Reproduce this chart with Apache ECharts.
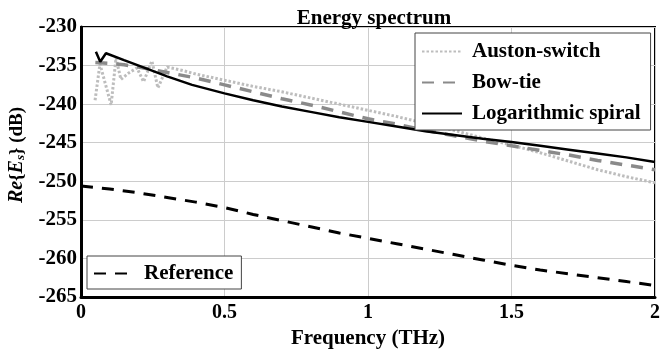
<!DOCTYPE html>
<html>
<head>
<meta charset="utf-8">
<script src="https://cdn.jsdelivr.net/npm/echarts@6/dist/echarts.min.js"></script>
<style>
  html, body { margin: 0; padding: 0; background: #fff; }
  #chart { width: 660px; height: 350px; }
</style>
</head>
<body>
<div id="chart"></div>
<script>
// values (frequency in THz, level in dB)
const austonFreq = [0.049, 0.066, 0.105, 0.122, 0.139, 0.165, 0.195, 0.218, 0.247, 0.268, 0.3, 0.35, 0.4, 0.5, 0.6, 0.7, 0.8, 0.9, 1.0, 1.1, 1.2, 1.3, 1.4, 1.5, 1.6, 1.7, 1.8, 1.9, 2.0]
const austonDb = [-239.5, -234.8, -240.1, -234.0, -236.8, -236.0, -235.3, -237.1, -234.4, -237.9, -235.2, -235.6, -236.1, -236.9, -237.7, -238.4, -239.2, -240.0, -240.8, -241.6, -242.5, -243.4, -244.4, -245.3, -246.3, -247.4, -248.5, -249.4, -250.2]

const bowtieFreq = [0.05, 0.1, 0.15, 0.2, 0.3, 0.4, 0.5, 0.6, 0.7, 0.8, 0.9, 1.0, 1.1, 1.2, 1.3, 1.4, 1.5, 1.6, 1.7, 1.8, 1.9, 2.0]
const bowtieDb = [-234.6, -234.7, -234.9, -235.2, -235.9, -236.6, -237.5, -238.4, -239.3, -240.1, -241.0, -241.9, -242.6, -243.4, -244.1, -244.8, -245.4, -246.0, -246.6, -247.3, -247.9, -248.5]

const spiralFreq = [0.052, 0.067, 0.087, 0.15, 0.236, 0.3, 0.387, 0.5, 0.6, 0.7, 0.8, 0.9, 1.0, 1.1, 1.2, 1.3, 1.4, 1.5, 1.6, 1.7, 1.8, 1.9, 2.0]
const spiralDb = [-233.2, -234.5, -233.4, -234.3, -235.5, -236.4, -237.5, -238.6, -239.5, -240.3, -241.0, -241.7, -242.3, -242.9, -243.5, -244.0, -244.5, -244.9, -245.4, -245.9, -246.4, -246.9, -247.5]

const refFreq = [0, 0.1, 0.2, 0.3, 0.4, 0.5, 0.6, 0.7, 0.8, 0.9, 1.0, 1.1, 1.2, 1.3, 1.4, 1.5, 1.6, 1.7, 1.8, 1.9, 2.0]
const refDb = [-250.6, -251.0, -251.5, -252.1, -252.7, -253.4, -254.3, -255.1, -255.9, -256.7, -257.4, -258.1, -258.8, -259.5, -260.2, -260.9, -261.5, -262.0, -262.5, -263.0, -263.5]

const font = 'Liberation Serif'
const pairs = (xs, ys) => xs.map((x, i) => [x, ys[i]])

const chart = echarts.init(document.getElementById('chart'))

const legendBase = {
  orient: 'vertical',
  backgroundColor: '#fff',
  borderColor: '#444',
  borderWidth: 1,
  borderRadius: 0,
  itemWidth: 40,
  itemHeight: 14,
  itemGap: 10,
  // line series legends always get a marker; hide it so only the stroke shows
  itemStyle: { opacity: 0, color: 'rgba(0,0,0,0)', borderWidth: 0 },
  textStyle: { fontFamily: font, fontSize: 21, fontWeight: 'bold', color: '#000', padding: [0, 0, 0, 5] },
}

chart.setOption({
  animation: false,
  backgroundColor: '#fff',
  title: {
    text: 'Energy spectrum',
    left: 369,
    textAlign: 'center',
    top: 3,
    textStyle: { fontFamily: font, fontSize: 21, fontWeight: 'bold', color: '#000' },
  },
  legend: [
    { ...legendBase, left: 415, top: 33, padding: [8, 10, 6, 6], data: ['Auston-switch', 'Bow-tie', 'Logarithmic spiral'] },
    { ...legendBase, left: 87, top: 256, padding: [7, 8, 5, 6], data: ['Reference'] },
  ],
  grid: {
    left: 81, right: 5, top: 27, bottom: 53,
    outerBoundsMode: 'none',
    show: true, borderColor: '#000', borderWidth: 2, backgroundColor: '#fff',
  },
  xAxis: {
    type: 'value',
    min: 0, max: 2, interval: 0.5,
    name: 'Frequency (THz)',
    nameLocation: 'middle',
    nameGap: 30,
    nameTextStyle: { fontFamily: font, fontSize: 21, fontWeight: 'bold', color: '#000' },
    axisLine: { lineStyle: { color: '#000', width: 3 } },
    axisTick: { show: false },
    axisLabel: { fontFamily: font, fontSize: 20, fontWeight: 'bold', color: '#000', margin: 6 },
    splitLine: { lineStyle: { color: '#ccc', width: 1 } },
  },
  yAxis: {
    type: 'value',
    min: -265, max: -230, interval: 5,
    name: '{i|Re}{{i|E}{sub|s}} (dB)',
    nameLocation: 'middle',
    nameGap: 53,
    nameTextStyle: {
      fontFamily: font, fontSize: 19, fontWeight: 'bold', color: '#000',
      padding: [0, 0, 0, 14],
      rich: {
        i: { fontFamily: font, fontSize: 20, fontWeight: 'bold', fontStyle: 'italic', color: '#000' },
        sub: { fontFamily: font, fontSize: 13, fontWeight: 'bold', fontStyle: 'italic', color: '#000', padding: [9, 0, 0, 0] },
      },
    },
    axisLine: { show: true, lineStyle: { color: '#000', width: 3 } },
    axisTick: { show: false },
    axisLabel: { fontFamily: font, fontSize: 21, fontWeight: 'bold', color: '#000', margin: 4 },
    splitLine: { lineStyle: { color: '#ccc', width: 1 } },
  },
  series: [
    {
      name: 'Reference', type: 'line', symbol: 'none',
      data: pairs(refFreq, refDb),
      lineStyle: { color: '#000', width: 3, type: [12, 9] },
      itemStyle: { color: '#000' },
    },
    {
      name: 'Auston-switch', type: 'line', symbol: 'none',
      data: pairs(austonFreq, austonDb),
      lineStyle: { color: '#bdbdbd', width: 3, type: [2.5, 2] },
      itemStyle: { color: '#bdbdbd' },
    },
    {
      name: 'Bow-tie', type: 'line', symbol: 'none',
      data: pairs(bowtieFreq, bowtieDb),
      lineStyle: { color: '#8a8a8a', width: 3.5, type: [12, 9] },
      itemStyle: { color: '#8a8a8a' },
    },
    {
      name: 'Logarithmic spiral', type: 'line', symbol: 'none',
      data: pairs(spiralFreq, spiralDb),
      lineStyle: { color: '#000', width: 2.5 },
      itemStyle: { color: '#000' },
    },
  ],
})
</script>
</body>
</html>
